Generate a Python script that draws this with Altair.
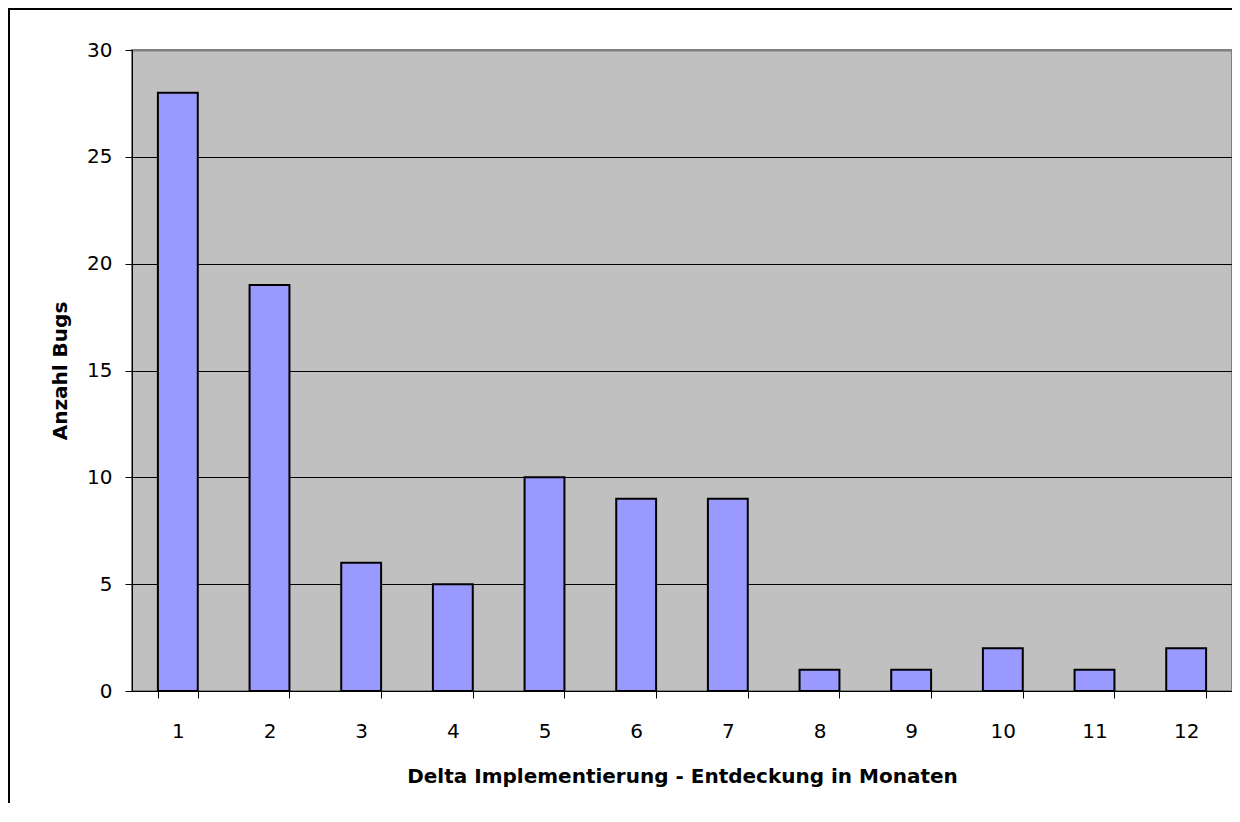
import altair as alt
import pandas as pd

months = ["1", "2", "3", "4", "5", "6", "7", "8", "9", "10", "11", "12"]
bugs = [28, 19, 6, 5, 10, 9, 9, 1, 1, 2, 1, 2]
y_ticks = [0, 5, 10, 15, 20, 25, 30]

df = pd.DataFrame({"Monat": months, "Bugs": bugs})

FONT = "DejaVu Sans"
FS = 20
W, H = 1100, 641
PB = 112

bars = alt.Chart(df).mark_bar(
    fill="#9999FF", stroke="black", strokeWidth=2
).encode(
    x=alt.X(
        "Monat:N",
        sort=months,
        scale=alt.Scale(paddingInner=0.565, paddingOuter=0.2825),
        axis=alt.Axis(
            title="Delta Implementierung - Entdeckung in Monaten",
            titleFont=FONT, titleFontSize=FS, titleFontWeight="bold", titleColor="black",
            titleBaseline="alphabetic", titleY=91,
            labelFont=FONT, labelFontSize=FS, labelColor="black", labelAngle=0,
            labelPadding=23,
            tickBand="extent", tickSize=7, tickColor="black", tickWidth=1,
            domainColor="black", domainWidth=1, grid=False,
        ),
    ),
    y=alt.Y(
        "Bugs:Q",
        scale=alt.Scale(domain=[0, 30], nice=False),
        axis=alt.Axis(
            title="Anzahl Bugs",
            titleFont=FONT, titleFontSize=FS, titleFontWeight="bold", titleColor="black",
            titleAngle=270, titleX=-66, titleY=H / 2, titleAlign="center",
            titleBaseline="alphabetic",
            values=y_ticks,
            labelFont=FONT, labelFontSize=FS, labelColor="black", labelPadding=13,
            tickSize=7, tickColor="black", tickWidth=1,
            domainColor="black", domainWidth=1,
            grid=True,
            gridColor={"condition": {"test": "datum.value === 30", "value": "#808080"}, "value": "black"},
            gridWidth={"condition": {"test": "datum.value === 30", "value": 2}, "value": 1},
        ),
    ),
)

frame_df = pd.DataFrame({"k": [0]})
left_line = alt.Chart(frame_df).mark_rule(color="black", strokeWidth=2).encode(
    x=alt.value(-123), y=alt.value(-42), y2=alt.value(H + PB)
)
top_line = alt.Chart(frame_df).mark_rule(color="black", strokeWidth=2).encode(
    x=alt.value(-124), x2=alt.value(W + 8), y=alt.value(-41)
)

chart = alt.layer(bars, left_line, top_line).properties(
    width=W, height=H,
    autosize=alt.AutoSizeParams(type="none"),
    padding={"left": 124, "top": 42, "right": 0, "bottom": PB},
    background="white",
).configure_view(
    fill="#C0C0C0", stroke="#808080", strokeWidth=2
)

chart.save("out.html", embed_options={"renderer": "svg", "actions": False})
